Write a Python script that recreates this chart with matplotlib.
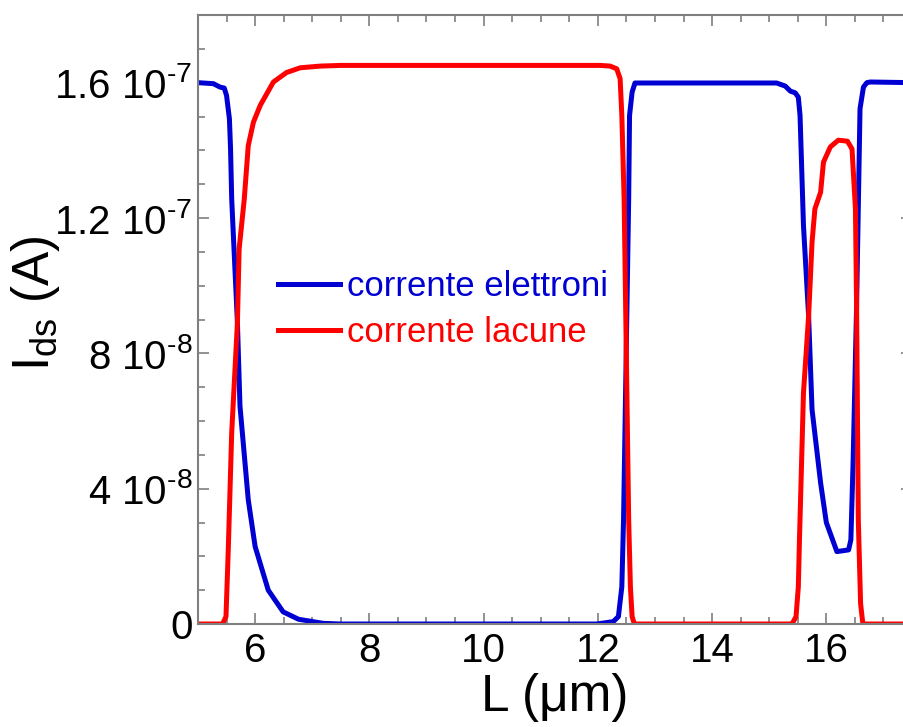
import matplotlib
matplotlib.use("Agg")
import matplotlib.pyplot as plt
from matplotlib.ticker import MultipleLocator, FixedLocator, FixedFormatter

plt.rcParams['font.family'] = ['Liberation Sans', 'DejaVu Sans']
plt.rcParams['mathtext.fontset'] = 'custom'
plt.rcParams['mathtext.rm'] = 'Liberation Sans'
plt.rcParams['mathtext.it'] = 'Liberation Sans:italic'
plt.rcParams['mathtext.bf'] = 'Liberation Sans:bold'

# Electron current along the channel (L in um, I in units of 1e-7 A)
L_el = [5.00, 5.27, 5.385, 5.46, 5.50, 5.55, 5.57, 5.59, 5.69, 5.735, 5.88,
        6.00, 6.23, 6.49, 6.76, 7.19, 7.50, 11.98, 12.27, 12.36, 12.42, 12.45,
        12.54, 12.555, 12.60, 12.65, 15.13, 15.28, 15.37, 15.455, 15.51, 15.54,
        15.60, 15.69, 15.75, 15.90, 16.00, 16.185, 16.39, 16.43, 16.47, 16.53,
        16.59, 16.65, 16.71, 16.77, 17.50]
I_el = [1.600, 1.597, 1.587, 1.584, 1.562, 1.493, 1.404, 1.256, 0.891, 0.644, 0.367,
        0.229, 0.100, 0.036, 0.014, 0.002, 0.000, 0.000, 0.007, 0.022, 0.110, 0.308,
        1.256, 1.503, 1.572, 1.599, 1.599, 1.590, 1.575, 1.570, 1.557, 1.503,
        1.178, 0.910, 0.634, 0.417, 0.300, 0.214, 0.219, 0.249, 0.486, 0.940,
        1.523, 1.587, 1.600, 1.602, 1.600]

# Hole current along the channel
L_h = [5.00, 5.43, 5.49, 5.53, 5.59, 5.69, 5.72, 5.81, 5.88, 5.97, 6.09, 6.32,
       6.55, 6.79, 7.14, 7.50, 12.04, 12.215, 12.33, 12.39, 12.42, 12.46, 12.54,
       12.57, 12.60, 12.64, 15.40, 15.47, 15.51, 15.53, 15.60, 15.69, 15.75,
       15.80, 15.90, 15.95, 16.07, 16.21, 16.37, 16.45, 16.51, 16.53, 16.56,
       16.60, 16.64, 17.50]
I_h = [0.000, 0.000, 0.022, 0.220, 0.565, 0.890, 1.108, 1.256, 1.414, 1.483, 1.533, 1.602,
       1.630, 1.644, 1.649, 1.651, 1.651, 1.649, 1.641, 1.612, 1.503, 1.256, 0.308,
       0.110, 0.022, 0.000, 0.000, 0.022, 0.110, 0.250, 0.683, 0.910, 1.128,
       1.227, 1.276, 1.365, 1.410, 1.430, 1.427, 1.404, 1.227, 0.940, 0.308,
       0.060, 0.000, 0.000]

series_labels = ['corrente elettroni', 'corrente lacune']
series_colors = ['#0000d2', '#ff0000']

y_ticks = [0.0, 4e-8, 8e-8, 1.2e-7, 1.6e-7]
y_tick_labels = ['0', r'4 10$^{\text{-8}}$', r'8 10$^{\text{-8}}$',
                 r'1.2 10$^{\text{-7}}$', r'1.6 10$^{\text{-7}}$']
x_ticks = [6, 8, 10, 12, 14, 16]

fig = plt.figure(figsize=(9.04, 7.27), dpi=100)
ax = fig.add_axes([198 / 904, 103 / 727, 714 / 904, 609 / 727])

scale = 1e-7
ax.plot(L_el, [v * scale for v in I_el], color=series_colors[0], lw=3.6,
        label=series_labels[0], solid_joinstyle='round')
ax.plot(L_h, [v * scale for v in I_h], color=series_colors[1], lw=3.6,
        label=series_labels[1], solid_joinstyle='round')

ax.set_xlim(5, 17.5)
ax.set_ylim(0, 1.8e-7)

ax.xaxis.set_major_locator(FixedLocator(x_ticks))
ax.xaxis.set_minor_locator(MultipleLocator(0.5))
ax.yaxis.set_major_locator(FixedLocator(y_ticks))
ax.yaxis.set_major_formatter(FixedFormatter(y_tick_labels))
ax.yaxis.set_minor_locator(MultipleLocator(1e-8))

spine_gray = '#7f7f7f'
for s in ax.spines.values():
    s.set_color(spine_gray)
    s.set_linewidth(1.5)
ax.tick_params(which='both', direction='in', top=True, right=True,
               color=spine_gray, width=1.2, labelsize=29, labelcolor='black')
ax.tick_params(which='major', length=8)
ax.tick_params(which='minor', length=5)
ax.tick_params(axis='x', which='major', pad=6)
ax.tick_params(axis='y', which='major', pad=4)

ax.set_xlabel('L (μm)', fontsize=37, labelpad=2)
fig.text(36 / 904, 1 - 303 / 727, r'$\mathregular{I_{ds}\ (A)}$', fontsize=37,
         rotation=90, ha='center', va='center')

leg = ax.legend(loc='upper left', bbox_to_anchor=(278 / 904, 1 - 270 / 727),
                bbox_transform=fig.transFigure, frameon=False, fontsize=25,
                handlelength=1.8, handletextpad=0.2, labelspacing=0.38,
                borderpad=0, borderaxespad=0, labelcolor='linecolor')

fig.savefig('out.png', dpi=100)
